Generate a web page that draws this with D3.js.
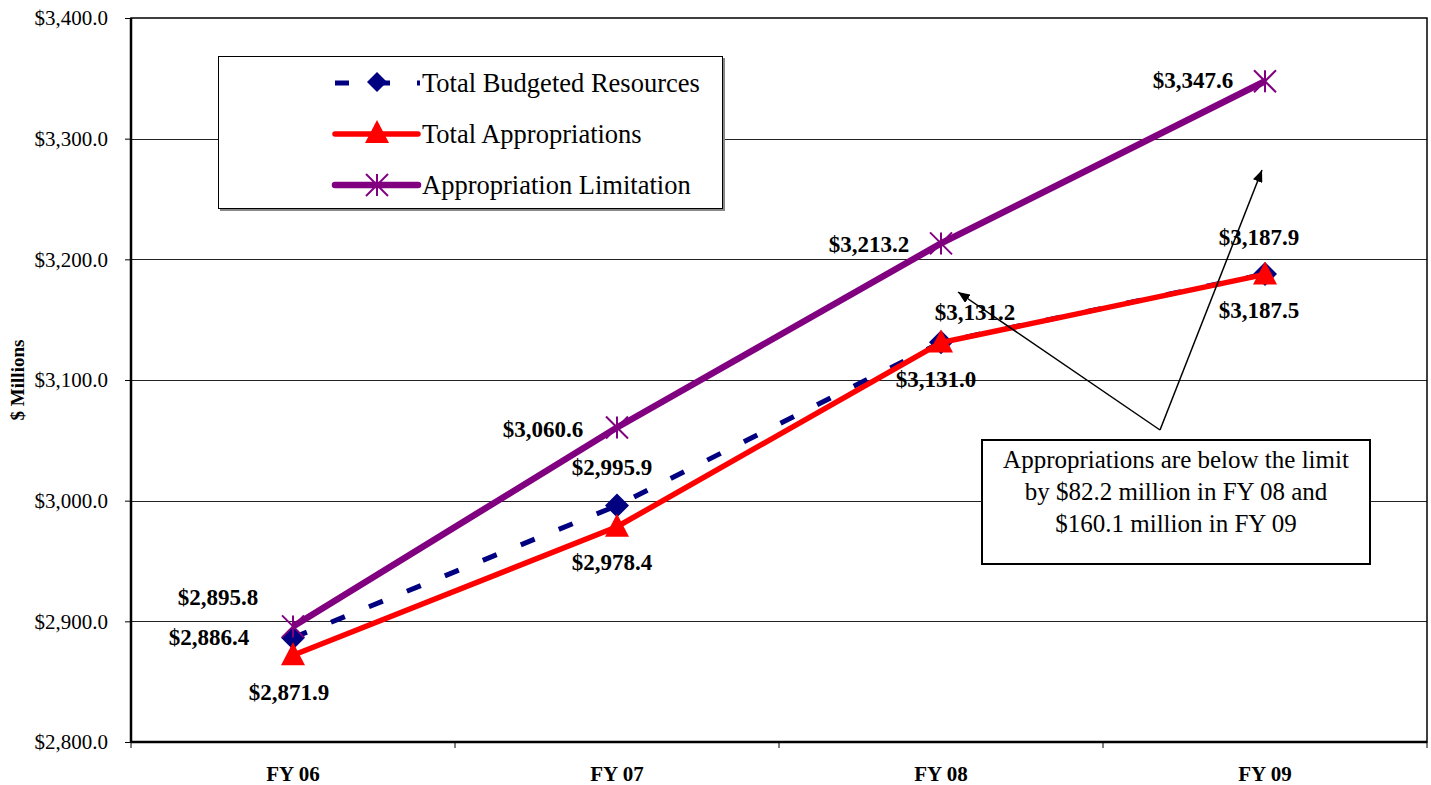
<!DOCTYPE html>
<html>
<head>
<meta charset="utf-8">
<script src="https://cdn.jsdelivr.net/npm/d3@7"></script>
<style>
  body { margin: 0; background: #fff; }
  text { font-family: "Liberation Serif", "Times New Roman", serif; }
</style>
</head>
<body>
<script>
// chart data
var years = ["FY 06", "FY 07", "FY 08", "FY 09"];
var budgeted = [2886.4, 2995.9, 3131.2, 3187.9];
var appropriations = [2871.9, 2978.4, 3131.0, 3187.5];
var limitation = [2895.8, 3060.6, 3213.2, 3347.6];
var yTicks = [2800, 2900, 3000, 3100, 3200, 3300, 3400];
var noteLines = ["Appropriations are below the limit", "by $82.2 million in FY 08 and", "$160.1 million in FY 09"];

// label offsets from each point (layout only)
var budgetedOff = [[-84, 0], [-5, -38], [34, -30], [-6, -36]];
var apprOff = [[-4, 37], [-5, 36], [-5, 37], [-6, 36]];
var limitOff = [[-75, -29], [-74, 2], [-72, 1], [-72, -1]];

var W = 1431, H = 785;
var plotL = 131, plotR = 1427, plotT = 18, plotB = 742;

var svg = d3.select("body").append("svg").attr("width", W).attr("height", H);

var defs = svg.append("defs");
defs.append("marker").attr("id", "arrow")
    .attr("viewBox", "0 0 12 10").attr("refX", 12).attr("refY", 5)
    .attr("markerWidth", 12).attr("markerHeight", 10)
    .attr("markerUnits", "userSpaceOnUse").attr("orient", "auto")
    .append("path").attr("d", "M0,0 L12,5 L0,10 Z").attr("fill", "#000");

var x = d3.scaleBand().domain(years).range([plotL, plotR]);
var y = d3.scaleLinear().domain([2800, 3400]).range([plotB, plotT]);
var cx = function(d, i) { return x(years[i]) + x.bandwidth() / 2; };

// gridlines
svg.append("g").selectAll("line").data(yTicks.slice(1, -1)).join("line")
    .attr("x1", plotL).attr("x2", plotR)
    .attr("y1", d => Math.round(y(d)) + 0.5).attr("y2", d => Math.round(y(d)) + 0.5)
    .attr("stroke", "#222").attr("stroke-width", 1);

// y axis
var yAxis = d3.axisLeft(y).tickValues(yTicks).tickSize(6).tickPadding(17)
    .tickFormat(d => "$" + d3.format(",.1f")(d));
var gy = svg.append("g").attr("transform", "translate(" + plotL + ",0)").call(yAxis);
gy.select(".domain").remove();
gy.selectAll("text").style("font-size", "21px").style("font-family", "Liberation Serif").attr("fill", "#000");
gy.selectAll("line").attr("stroke", "#000");

// x axis
var xAxis = d3.axisBottom(x).tickSize(0).tickPadding(24);
var gx = svg.append("g").attr("transform", "translate(0," + plotB + ")").call(xAxis);
gx.select(".domain").remove();
gx.selectAll("text").style("font-size", "21px").style("font-weight", "bold")
    .style("font-family", "Liberation Serif").attr("fill", "#000");
// x tick marks between categories
var xBounds = years.map(d => x(d)).concat([plotR]);
svg.append("g").selectAll("line").data(xBounds).join("line")
    .attr("x1", d => d).attr("x2", d => d).attr("y1", plotB).attr("y2", plotB + 6)
    .attr("stroke", "#000").attr("stroke-width", 1);

// plot frame
svg.append("rect").attr("x", plotL).attr("y", plotT).attr("width", plotR - plotL).attr("height", plotB - plotT)
    .attr("fill", "none").attr("stroke", "#000").attr("stroke-width", 1.5);
svg.append("line").attr("x1", plotL).attr("x2", plotL).attr("y1", plotT).attr("y2", plotB)
    .attr("stroke", "#000").attr("stroke-width", 2.5);
svg.append("line").attr("x1", plotL).attr("x2", plotR).attr("y1", plotB).attr("y2", plotB)
    .attr("stroke", "#000").attr("stroke-width", 2.5);

// y axis title
svg.append("text").attr("transform", "translate(24," + (plotT + plotB) / 2 + ") rotate(-90)")
    .attr("text-anchor", "middle").style("font-size", "19px").style("font-weight", "bold")
    .text("$ Millions");

var line = d3.line().x(cx).y(d => y(d));

function diamond(g, px, py, r) {
    g.append("path").attr("d", "M" + px + "," + (py - r) + " L" + (px + r) + "," + py +
        " L" + px + "," + (py + r) + " L" + (px - r) + "," + py + " Z").attr("fill", "#000080");
}
function triangle(g, px, py) {
    g.append("path").attr("d", "M" + px + "," + (py - 13) + " L" + (px + 12) + "," + (py + 10) +
        " L" + (px - 12) + "," + (py + 10) + " Z").attr("fill", "#ff0000");
}
function star(g, px, py) {
    var r = 11;
    var s = g.append("g").attr("stroke", "#800080").attr("stroke-width", 2);
    s.append("line").attr("x1", px).attr("x2", px).attr("y1", py - r).attr("y2", py + r);
    s.append("line").attr("x1", px - r).attr("x2", px + r).attr("y1", py - r).attr("y2", py + r);
    s.append("line").attr("x1", px - r).attr("x2", px + r).attr("y1", py + r).attr("y2", py - r);
}

var series = svg.append("g");
// budgeted (dashed navy)
series.append("path").datum(budgeted).attr("d", line).attr("fill", "none")
    .attr("stroke", "#000080").attr("stroke-width", 5).attr("stroke-dasharray", "15,26");
// limitation (purple)
series.append("path").datum(limitation).attr("d", line).attr("fill", "none")
    .attr("stroke", "#800080").attr("stroke-width", 6.5);
budgeted.forEach((d, i) => diamond(series, cx(d, i), y(d), 12));
limitation.forEach((d, i) => star(series, cx(d, i), y(d)));
// appropriations (red)
series.append("path").datum(appropriations).attr("d", line).attr("fill", "none")
    .attr("stroke", "#ff0000").attr("stroke-width", 5.5);
appropriations.forEach((d, i) => triangle(series, cx(d, i), y(d)));

// data labels
function labels(vals, offs) {
    svg.append("g").selectAll("text").data(vals).join("text")
        .attr("x", (d, i) => cx(d, i) + offs[i][0])
        .attr("y", (d, i) => y(d) + offs[i][1])
        .attr("text-anchor", "middle").attr("dominant-baseline", "central")
        .style("font-size", "23px").style("font-weight", "bold")
        .text(d => "$" + d3.format(",.1f")(d));
}
labels(limitation, limitOff);
labels(budgeted, budgetedOff);
labels(appropriations, apprOff);

// legend
var lg = svg.append("g");
lg.append("rect").attr("x", 220).attr("y", 58).attr("width", 505).attr("height", 153).attr("fill", "#888");
lg.append("rect").attr("x", 218.5).attr("y", 56.5).attr("width", 504).attr("height", 152)
    .attr("fill", "#fff").attr("stroke", "#000").attr("stroke-width", 1);
var legendItems = [
    { name: "Total Budgeted Resources", ly: 83 },
    { name: "Total Appropriations", ly: 134 },
    { name: "Appropriation Limitation", ly: 185 }
];
lg.append("line").attr("x1", 335).attr("x2", 420).attr("y1", 83).attr("y2", 83)
    .attr("stroke", "#000080").attr("stroke-width", 5).attr("stroke-dasharray", "14,27");
diamond(lg, 377, 82, 10);
lg.append("line").attr("x1", 335).attr("x2", 418).attr("y1", 134).attr("y2", 134)
    .attr("stroke", "#ff0000").attr("stroke-width", 5.5).attr("stroke-linecap", "round");
triangle(lg, 377, 133);
lg.append("line").attr("x1", 335).attr("x2", 418).attr("y1", 185).attr("y2", 185)
    .attr("stroke", "#800080").attr("stroke-width", 6.5).attr("stroke-linecap", "round");
star(lg, 377, 185);
lg.selectAll("text.leg").data(legendItems).join("text").attr("class", "leg")
    .attr("x", 422).attr("y", d => d.ly).attr("dominant-baseline", "central")
    .style("font-size", "26.5px").text(d => d.name);

// annotation arrows
svg.append("line").attr("x1", 1160).attr("y1", 430).attr("x2", 958).attr("y2", 292)
    .attr("stroke", "#000").attr("stroke-width", 1.5).attr("marker-end", "url(#arrow)");
svg.append("line").attr("x1", 1160).attr("y1", 430).attr("x2", 1262).attr("y2", 170)
    .attr("stroke", "#000").attr("stroke-width", 1.5).attr("marker-end", "url(#arrow)");

// annotation box
var nb = svg.append("g");
nb.append("rect").attr("x", 982).attr("y", 440).attr("width", 388).attr("height", 124)
    .attr("fill", "#fff").attr("stroke", "#000").attr("stroke-width", 2);
nb.selectAll("text").data(noteLines).join("text")
    .attr("x", 1176).attr("y", (d, i) => 459 + i * 32)
    .attr("text-anchor", "middle").attr("dominant-baseline", "central")
    .style("font-size", "25px").text(d => d);
</script>
</body>
</html>
